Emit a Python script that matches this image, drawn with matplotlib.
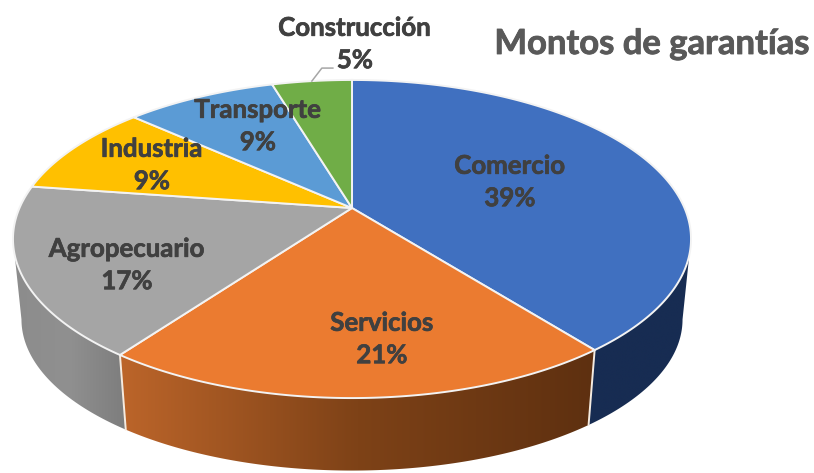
import numpy as np
import matplotlib
matplotlib.use("Agg")
import matplotlib.pyplot as plt
import matplotlib.patheffects as pe
from matplotlib.colors import LinearSegmentedColormap
from matplotlib.patches import Polygon

categories = ["Comercio", "Servicios", "Agropecuario", "Industria", "Transporte", "Construcción"]
shares = [39.4, 20.6, 17.3, 9.4, 8.7, 4.6]
colors = ["#4070C0", "#EB7B30", "#A5A5A5", "#FFC000", "#5B9BD5", "#70AD47"]
title = "Montos de garantías"

label_xy = [(510, 182), (382, 339), (127, 265), (152, 165), (258, 126), (355, 44)]
side_stops = {
    0: ["#172C52", "#172C52"],
    1: ["#BC652A", "#7E4217", "#5E3010"],
    2: ["#8C8C8C", "#909090", "#7D7D7D"],
}

plt.rcParams["font.family"] = ["Lato", "DejaVu Sans"]
fig = plt.figure(figsize=(8.14, 4.73), dpi=100)
ax = fig.add_axes([0, 0, 1, 1])
ax.set_xlim(0, 814)
ax.set_ylim(473, 0)
ax.axis("off")

CX, CY, A, B, K = 352.0, 208.0, 332.5, 153.0, 0.195
SX, BY, SY = 0.975, 290.0, 0.95


def top(t):
    w = 1 + K * np.cos(t)
    return CX + A * np.sin(t) / w, CY - B * np.cos(t) / w


def bottom(t):
    w = 1 + K * np.cos(t)
    return CX + SX * A * np.sin(t) / w, BY - SY * B * np.cos(t) / w


edges = np.cumsum([0] + shares) / sum(shares) * 2 * np.pi
t_right = np.arccos(-K)
t_left = 2 * np.pi - t_right

# side walls
for i in side_stops:
    t0, t1 = max(edges[i], t_right), min(edges[i + 1], t_left)
    ts = np.linspace(t0, t1, 200)
    xt, yt = top(ts)
    xb, yb = bottom(ts)
    pts = np.column_stack([np.r_[xt, xb[::-1]], np.r_[yt, yb[::-1]]])
    poly = Polygon(pts, closed=True, fc="none", ec="none", transform=ax.transData)
    ax.add_patch(poly)
    cmap = LinearSegmentedColormap.from_list(f"s{i}", side_stops[i])
    x0, x1 = pts[:, 0].min(), pts[:, 0].max()
    grad = np.linspace(0, 1, 256)[None, :]
    im = ax.imshow(grad, cmap=cmap, extent=(x0, x1, pts[:, 1].max(), pts[:, 1].min()),
                   aspect="auto", zorder=1, interpolation="bilinear")
    im.set_clip_path(poly)

# vertical seams between visible walls
for e in edges[1:3]:
    xa, ya = top(e)
    xc, yc = bottom(e)
    ax.plot([xa, xc], [ya, yc], color="#F5EBE0", lw=1.4, zorder=2, solid_capstyle="round")
ax.set_xlim(0, 814)
ax.set_ylim(473, 0)

# top face
for i, c in enumerate(colors):
    ts = np.linspace(edges[i], edges[i + 1], 200)
    xt, yt = top(ts)
    ax.fill(np.r_[CX, xt], np.r_[CY, yt], facecolor=c, edgecolor="#F3F3F3", lw=1.4,
            joinstyle="round", zorder=3)

# leader line for the outside label
lead_t = (edges[5] + edges[6]) / 2
lx, ly = top(lead_t)
ax.plot([lx, lx + 10, lx + 21], [ly, ly - 13, ly - 13], color="#A6A6A6", lw=1.1, zorder=4)

# labels
for name, v, (x, y) in zip(categories, shares, label_xy):
    ax.text(x, y, f"{name}\n{round(v)}%", ha="center", va="center", fontsize=18.6,
            fontweight="bold", color="#404040", linespacing=1.42, zorder=5,
            path_effects=[pe.withStroke(linewidth=0.5, foreground="#404040")])

ax.text(652, 44, title, ha="center", va="center", fontsize=24.9, fontweight="bold",
        color="#595959", zorder=5,
        path_effects=[pe.withStroke(linewidth=0.6, foreground="#595959")])

fig.savefig("out.png", dpi=100, facecolor="white")
